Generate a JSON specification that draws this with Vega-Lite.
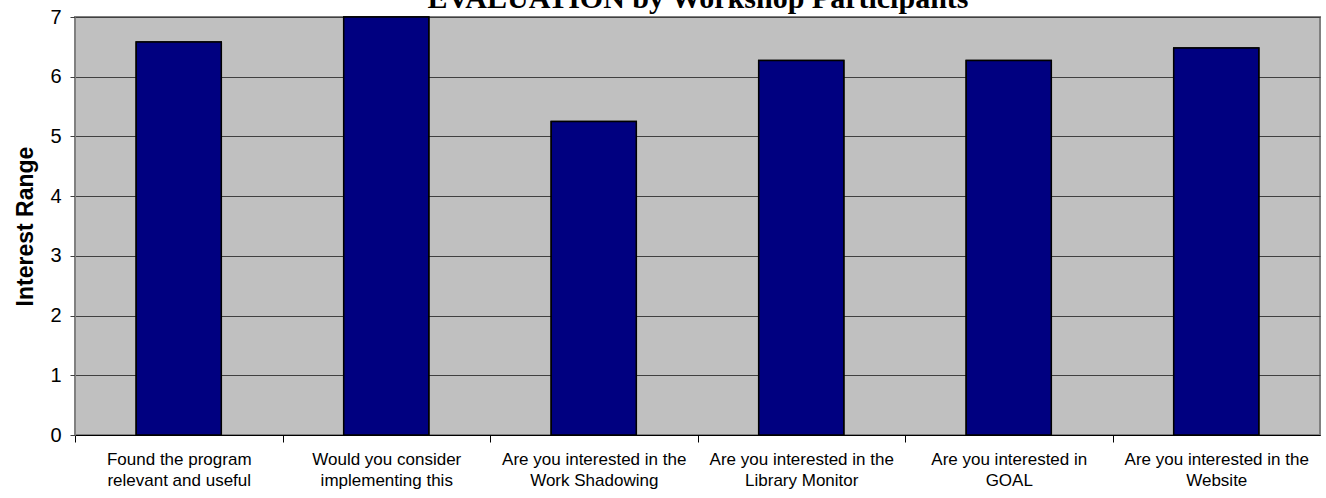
{
  "$schema": "https://vega.github.io/schema/vega-lite/v6.json",
  "width": 1245,
  "height": 418,
  "autosize": "none",
  "padding": {"left": 75, "top": 17, "right": 6, "bottom": 63},
  "background": "white",
  "config": {
    "view": {"fill": "#c0c0c0", "stroke": "#808080", "strokeWidth": 2},
    "axis": {"labelFont": "Liberation Sans", "titleFont": "Liberation Sans", "labelColor": "black", "titleColor": "black"}
  },
  "data": {
    "values": [
      {"q": "Found the program|relevant and useful", "v": 6.58},
      {"q": "Would you consider|implementing this", "v": 7.0},
      {"q": "Are you interested in the|Work Shadowing", "v": 5.25},
      {"q": "Are you interested in the|Library Monitor", "v": 6.27},
      {"q": "Are you interested in|GOAL", "v": 6.27},
      {"q": "Are you interested in the|Website", "v": 6.48}
    ]
  },
  "encoding": {
    "y": {
      "field": "v",
      "type": "quantitative",
      "scale": {"domain": [0, 7], "nice": false},
      "axis": {
        "title": "Interest Range",
        "titleFontSize": 23,
        "titleFontWeight": "bold",
        "titlePadding": 12,
        "values": [0, 1, 2, 3, 4, 5, 6, 7],
        "labelFontSize": 20,
        "labelPadding": 9,
        "tickSize": 5,
        "tickColor": "#404040",
        "domainColor": "#808080",
        "domainWidth": 1,
        "grid": true,
        "gridColor": "#404040",
        "gridWidth": 1,
        "gridOpacity": 1
      }
    }
  },
  "layer": [
    {
      "mark": {"type": "bar", "color": "#000080", "stroke": "black", "strokeWidth": 1.5},
      "encoding": {
        "x": {
          "field": "q",
          "type": "nominal",
          "sort": null,
          "scale": {"paddingInner": 0.59, "paddingOuter": 0.295},
          "axis": {
            "title": null,
            "labelAngle": 0,
            "labelExpr": "split(datum.label, '|')",
            "labelFontSize": 17,
            "labelLineHeight": 21,
            "labelPadding": 9,
            "labelLimit": 300,
            "tickOffset": -103.75,
            "labelOffset": 103.75,
            "tickSize": 7,
            "tickColor": "black",
            "domainColor": "black",
            "domainWidth": 1,
            "grid": false
          }
        }
      }
    },
    {
      "mark": {"type": "bar", "color": "#000080", "stroke": "black", "strokeWidth": 1.5},
      "encoding": {
        "x": {
          "field": "q",
          "type": "nominal",
          "sort": null,
          "axis": {
            "orient": "top",
            "title": "EVALUATION by Workshop Participants",
            "titleFont": "Liberation Serif",
            "titleFontSize": 30,
            "titleFontWeight": "bold",
            "titleColor": "black",
            "titleBaseline": "alphabetic",
            "titlePadding": 10,
            "labels": false,
            "ticks": false,
            "domain": false,
            "grid": false
          }
        }
      }
    }
  ],
  "resolve": {"axis": {"x": "independent"}}
}
